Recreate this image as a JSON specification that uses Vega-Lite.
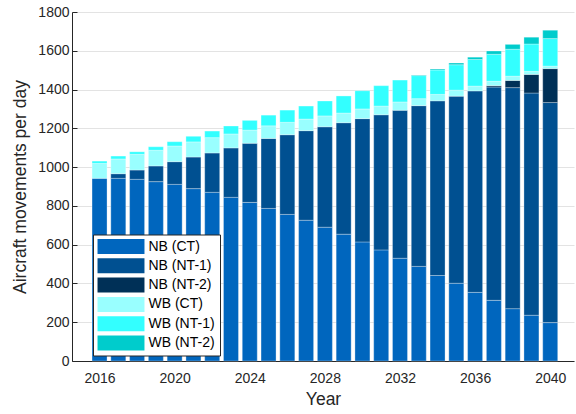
{
  "$schema": "https://vega.github.io/schema/vega-lite/v6.json",
  "width": 502,
  "height": 349,
  "autosize": {"type": "none"},
  "padding": {"left": 72, "top": 12, "right": 2, "bottom": 53},
  "background": "white",
  "config": {
    "font": "Liberation Sans",
    "view": {"stroke": null},
    "axis": {
      "domainColor": "#262626",
      "tickColor": "#262626",
      "labelColor": "#262626",
      "titleColor": "#262626",
      "labelFont": "Liberation Sans",
      "titleFont": "Liberation Sans",
      "labelFontSize": 14,
      "titleFontSize": 17.5,
      "titleFontWeight": "normal",
      "gridColor": "#e3e3e3",
      "gridOpacity": 1
    }
  },
  "data": {
    "values": [
      {"year": 2016, "NB (CT)": 942, "NB (NT-1)": 0, "NB (NT-2)": 0, "WB (CT)": 77, "WB (NT-1)": 12, "WB (NT-2)": 0},
      {"year": 2017, "NB (CT)": 942, "NB (NT-1)": 24, "NB (NT-2)": 0, "WB (CT)": 76, "WB (NT-1)": 15, "WB (NT-2)": 0},
      {"year": 2018, "NB (CT)": 937, "NB (NT-1)": 48, "NB (NT-2)": 0, "WB (CT)": 81, "WB (NT-1)": 13, "WB (NT-2)": 0},
      {"year": 2019, "NB (CT)": 925, "NB (NT-1)": 81, "NB (NT-2)": 0, "WB (CT)": 81, "WB (NT-1)": 18, "WB (NT-2)": 0},
      {"year": 2020, "NB (CT)": 911, "NB (NT-1)": 117, "NB (NT-2)": 0, "WB (CT)": 81, "WB (NT-1)": 22, "WB (NT-2)": 0},
      {"year": 2021, "NB (CT)": 889, "NB (NT-1)": 163, "NB (NT-2)": 0, "WB (CT)": 78, "WB (NT-1)": 29, "WB (NT-2)": 0},
      {"year": 2022, "NB (CT)": 870, "NB (NT-1)": 203, "NB (NT-2)": 0, "WB (CT)": 79, "WB (NT-1)": 34, "WB (NT-2)": 0},
      {"year": 2023, "NB (CT)": 844, "NB (NT-1)": 255, "NB (NT-2)": 0, "WB (CT)": 72, "WB (NT-1)": 41, "WB (NT-2)": 0},
      {"year": 2024, "NB (CT)": 818, "NB (NT-1)": 305, "NB (NT-2)": 0, "WB (CT)": 68, "WB (NT-1)": 50, "WB (NT-2)": 0},
      {"year": 2025, "NB (CT)": 787, "NB (NT-1)": 361, "NB (NT-2)": 0, "WB (CT)": 65, "WB (NT-1)": 55, "WB (NT-2)": 0},
      {"year": 2026, "NB (CT)": 756, "NB (NT-1)": 411, "NB (NT-2)": 0, "WB (CT)": 64, "WB (NT-1)": 63, "WB (NT-2)": 0},
      {"year": 2027, "NB (CT)": 726, "NB (NT-1)": 462, "NB (NT-2)": 0, "WB (CT)": 60, "WB (NT-1)": 67, "WB (NT-2)": 0},
      {"year": 2028, "NB (CT)": 690, "NB (NT-1)": 518, "NB (NT-2)": 0, "WB (CT)": 56, "WB (NT-1)": 77, "WB (NT-2)": 0},
      {"year": 2029, "NB (CT)": 654, "NB (NT-1)": 575, "NB (NT-2)": 0, "WB (CT)": 50, "WB (NT-1)": 88, "WB (NT-2)": 0},
      {"year": 2030, "NB (CT)": 614, "NB (NT-1)": 636, "NB (NT-2)": 0, "WB (CT)": 50, "WB (NT-1)": 94, "WB (NT-2)": 0},
      {"year": 2031, "NB (CT)": 573, "NB (NT-1)": 697, "NB (NT-2)": 0, "WB (CT)": 45, "WB (NT-1)": 105, "WB (NT-2)": 0},
      {"year": 2032, "NB (CT)": 530, "NB (NT-1)": 763, "NB (NT-2)": 0, "WB (CT)": 43, "WB (NT-1)": 113, "WB (NT-2)": 0},
      {"year": 2033, "NB (CT)": 488, "NB (NT-1)": 829, "NB (NT-2)": 0, "WB (CT)": 36, "WB (NT-1)": 119, "WB (NT-2)": 3},
      {"year": 2034, "NB (CT)": 441, "NB (NT-1)": 901, "NB (NT-2)": 0, "WB (CT)": 33, "WB (NT-1)": 126, "WB (NT-2)": 5},
      {"year": 2035, "NB (CT)": 401, "NB (NT-1)": 965, "NB (NT-2)": 0, "WB (CT)": 31, "WB (NT-1)": 131, "WB (NT-2)": 9},
      {"year": 2036, "NB (CT)": 354, "NB (NT-1)": 1039, "NB (NT-2)": 0, "WB (CT)": 25, "WB (NT-1)": 137, "WB (NT-2)": 12},
      {"year": 2037, "NB (CT)": 313, "NB (NT-1)": 1100, "NB (NT-2)": 7, "WB (CT)": 23, "WB (NT-1)": 139, "WB (NT-2)": 17},
      {"year": 2038, "NB (CT)": 270, "NB (NT-1)": 1140, "NB (NT-2)": 37, "WB (CT)": 22, "WB (NT-1)": 139, "WB (NT-2)": 25},
      {"year": 2039, "NB (CT)": 236, "NB (NT-1)": 1146, "NB (NT-2)": 96, "WB (CT)": 16, "WB (NT-1)": 141, "WB (NT-2)": 35},
      {"year": 2040, "NB (CT)": 198, "NB (NT-1)": 1135, "NB (NT-2)": 175, "WB (CT)": 13, "WB (NT-1)": 142, "WB (NT-2)": 43}
    ]
  },
  "transform": [
    {"fold": ["NB (CT)", "NB (NT-1)", "NB (NT-2)", "WB (CT)", "WB (NT-1)", "WB (NT-2)"], "as": ["series", "movements"]},
    {"filter": "datum.movements > 0"}
  ],
  "mark": {"type": "bar", "width": 15, "stroke": "#ffffff", "strokeOpacity": 0.3, "strokeWidth": 1},
  "encoding": {
    "x": {
      "field": "year",
      "type": "quantitative",
      "scale": {"domain": [2014.8, 2041.0], "nice": false, "zero": false},
      "axis": {
        "title": "Year",
        "values": [2016, 2020, 2024, 2028, 2032, 2036, 2040],
        "format": "d",
        "grid": false,
        "tickSize": -5,
        "labelPadding": 15,
        "titlePadding": 5
      }
    },
    "y": {
      "field": "movements",
      "type": "quantitative",
      "stack": "zero",
      "scale": {"domain": [0, 1800], "nice": false},
      "axis": {
        "title": "Aircraft movements per day",
        "values": [0, 200, 400, 600, 800, 1000, 1200, 1400, 1600, 1800],
        "format": "d",
        "grid": true,
        "tickSize": -5,
        "labelPadding": 8,
        "titlePadding": 8
      }
    },
    "color": {
      "field": "series",
      "type": "nominal",
      "sort": ["NB (CT)", "NB (NT-1)", "NB (NT-2)", "WB (CT)", "WB (NT-1)", "WB (NT-2)"],
      "scale": {
        "domain": ["NB (CT)", "NB (NT-1)", "NB (NT-2)", "WB (CT)", "WB (NT-1)", "WB (NT-2)"],
        "range": ["#0066BE", "#005091", "#003057", "#99FFFF", "#33FFFF", "#00CCCC"]
      },
      "legend": {
        "title": null,
        "orient": "none",
        "legendX": 21,
        "legendY": 222.5,
        "symbolType": "M-3.13,-1H3.13V1H-3.13Z",
        "symbolSize": 225,
        "symbolOffset": 16,
        "symbolStrokeWidth": 0,
        "symbolOpacity": 1,
        "labelFontSize": 14,
        "labelFont": "Liberation Sans",
        "labelColor": "#000000",
        "labelOffset": 20,
        "rowPadding": 4.3,
        "padding": 4.5,
        "fillColor": "#ffffff",
        "strokeColor": "#262626"
      }
    },
    "order": {"field": "series", "type": "nominal", "sort": "ascending"}
  }
}
